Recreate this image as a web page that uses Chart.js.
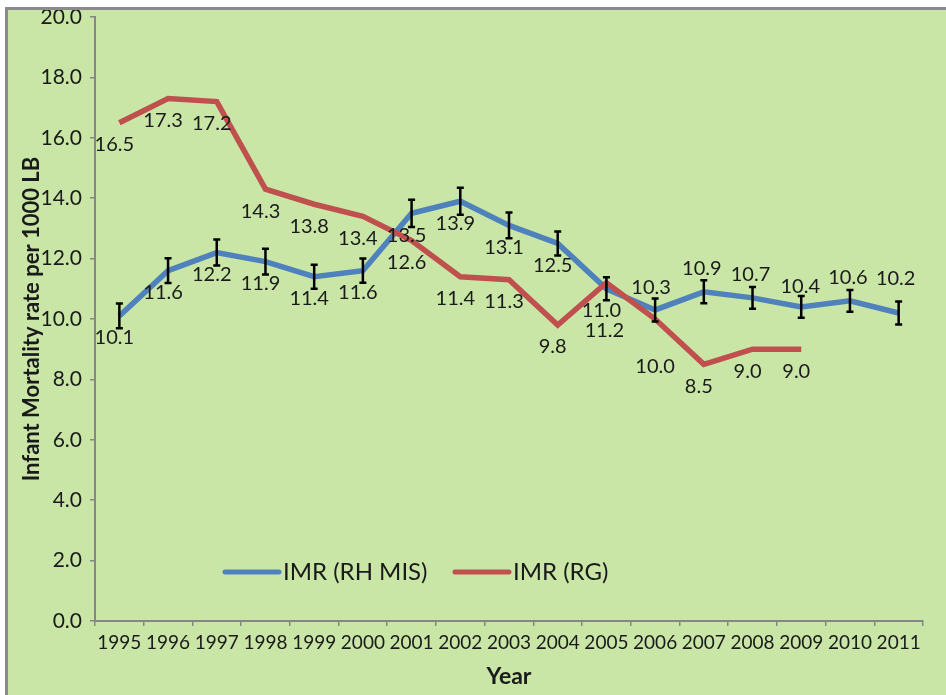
<!DOCTYPE html>
<html>
<head>
<meta charset="utf-8">
<script src="https://cdn.jsdelivr.net/npm/chart.js@4.4.1/dist/chart.umd.min.js"></script>
<style>
  body { margin: 0; background: #fff; }
  .frame {
    position: absolute; left: 5px; top: 7px;
    width: 938px; height: 685px;
    border-top: 3px solid #8b8b8b; border-left: 3px solid #8b8b8b;
    background: #c9e6a7;
  }
  canvas { display: block; }
</style>
</head>
<body>
<div class="frame"><canvas id="imr" width="938" height="685"></canvas></div>
<script>
const years = ['1995', '1996', '1997', '1998', '1999', '2000', '2001', '2002', '2003',
               '2004', '2005', '2006', '2007', '2008', '2009', '2010', '2011'];
const imrRhMis = [10.1, 11.6, 12.2, 11.9, 11.4, 11.6, 13.5, 13.9, 13.1, 12.5, 11.0, 10.3, 10.9, 10.7, 10.4, 10.6, 10.2];
const imrRhMisErr = [0.41, 0.41, 0.43, 0.43, 0.40, 0.40, 0.45, 0.45, 0.43, 0.40, 0.38, 0.38, 0.38, 0.36, 0.36, 0.36, 0.38];
const imrRg = [16.5, 17.3, 17.2, 14.3, 13.8, 13.4, 12.6, 11.4, 11.3, 9.8, 11.2, 10.0, 8.5, 9.0, 9.0, null, null];
const yTicks = [0, 2, 4, 6, 8, 10, 12, 14, 16, 18, 20];

// where each value label sits relative to its point
const below = [-5, 22], above = [-2, -23];
const rhMisLabelPos = [below, below, below, below, below, below, below, below, below, below, below,
                       [-4, -22], above, above, [-1, -20], above, [-3, -34]];
const rgLabelPos = [below, below, below, below, below, below, below, below, below, below,
                    [-2, 48], [0, 48], below, below, below, null, null];

const BLUE = '#4f81bd';
const RED = '#c0504d';
const AXIS = '#868686';
const TEXT = '#1a1a1a';
const FONT = 'Lato, "Open Sans", sans-serif';

// value labels next to every point
const valueLabels = {
  id: 'valueLabels',
  afterDatasetsDraw(chart) {
    const ctx = chart.ctx;
    ctx.save();
    ctx.font = '20px ' + FONT;
    ctx.fillStyle = TEXT;
    ctx.textAlign = 'center';
    ctx.textBaseline = 'middle';
    chart.data.datasets.forEach((ds, i) => {
      chart.getDatasetMeta(i).data.forEach((pt, j) => {
        const v = ds.data[j];
        if (v == null) return;
        const [dx, dy] = ds.labelPos[j];
        ctx.fillText(v.toFixed(1), pt.x + dx, pt.y + dy);
      });
    });
    ctx.restore();
  }
};

// I-beam error bars on the RH MIS series
const errorBars = {
  id: 'errorBars',
  afterDatasetsDraw(chart) {
    const ctx = chart.ctx;
    const y = chart.scales.y;
    const meta = chart.getDatasetMeta(0);
    ctx.save();
    ctx.strokeStyle = '#000';
    ctx.lineWidth = 2.5;
    meta.data.forEach((pt, j) => {
      const v = imrRhMis[j], e = imrRhMisErr[j];
      const top = y.getPixelForValue(v + e);
      const bot = y.getPixelForValue(v - e);
      ctx.beginPath();
      ctx.moveTo(pt.x, top); ctx.lineTo(pt.x, bot);
      ctx.moveTo(pt.x - 3.5, top); ctx.lineTo(pt.x + 3.5, top);
      ctx.moveTo(pt.x - 3.5, bot); ctx.lineTo(pt.x + 3.5, bot);
      ctx.stroke();
    });
    ctx.restore();
  }
};

// legend drawn inside the plot area, near the bottom
const innerLegend = {
  id: 'innerLegend',
  afterDraw(chart) {
    const ctx = chart.ctx;
    const area = chart.chartArea;
    const ly = area.bottom - 49;
    const items = [
      { x: area.left + 130, ds: chart.data.datasets[0] },
      { x: area.left + 360, ds: chart.data.datasets[1] }
    ];
    ctx.save();
    ctx.font = '24px ' + FONT;
    ctx.textBaseline = 'middle';
    ctx.textAlign = 'left';
    items.forEach(it => {
      ctx.strokeStyle = it.ds.borderColor;
      ctx.lineWidth = 5;
      ctx.lineCap = 'round';
      ctx.beginPath();
      ctx.moveTo(it.x, ly);
      ctx.lineTo(it.x + 54, ly);
      ctx.stroke();
      ctx.fillStyle = TEXT;
      ctx.fillText(it.ds.label, it.x + 58, ly);
    });
    ctx.restore();
  }
};

new Chart(document.getElementById('imr'), {
  type: 'line',
  data: {
    labels: years,
    datasets: [
      {
        label: 'IMR (RH MIS)',
        data: imrRhMis,
        labelPos: rhMisLabelPos,
        borderColor: BLUE,
        borderWidth: 5.5,
        pointRadius: 0,
        tension: 0,
        order: 1
      },
      {
        label: 'IMR (RG)',
        data: imrRg,
        labelPos: rgLabelPos,
        borderColor: RED,
        borderWidth: 5.5,
        pointRadius: 0,
        tension: 0,
        spanGaps: false,
        order: 0
      }
    ]
  },
  options: {
    responsive: false,
    animation: false,
    layout: { padding: { top: 7, right: 23, left: 0, bottom: 0 } },
    plugins: {
      legend: { display: false },
      tooltip: { enabled: false }
    },
    scales: {
      x: {
        type: 'category',
        offset: true,
        grid: { offset: true, drawOnChartArea: false, drawTicks: true, tickLength: 5, color: AXIS, lineWidth: 1.5 },
        border: { color: AXIS, width: 2 },
        ticks: { color: TEXT, font: { family: FONT, size: 19 }, padding: 5, maxRotation: 0, autoSkip: false },
        title: { display: true, text: 'Year', color: TEXT, font: { family: FONT, size: 23, weight: 'bold' }, padding: { top: 0, bottom: 5 } },
        afterFit: s => { s.height = 74; s.paddingLeft = 0; s.paddingRight = 0; }
      },
      y: {
        min: 0,
        max: 20,
        afterBuildTicks: s => { s.ticks = yTicks.map(v => ({ value: v })); },
        grid: { drawOnChartArea: false, drawTicks: true, tickLength: 5, color: AXIS, lineWidth: 1.5 },
        border: { color: AXIS, width: 2 },
        ticks: { color: TEXT, font: { family: FONT, size: 21 }, padding: 8, callback: v => v.toFixed(1) },
        title: { display: true, text: 'Infant Mortality rate per 1000 LB', color: TEXT, font: { family: FONT, size: 22, weight: 'bold' }, padding: { top: 11, bottom: 0 } },
        afterFit: s => { s.width = 87; s.paddingTop = 0; s.paddingBottom = 0; }
      }
    }
  },
  plugins: [valueLabels, errorBars, innerLegend]
});
</script>
</body>
</html>
